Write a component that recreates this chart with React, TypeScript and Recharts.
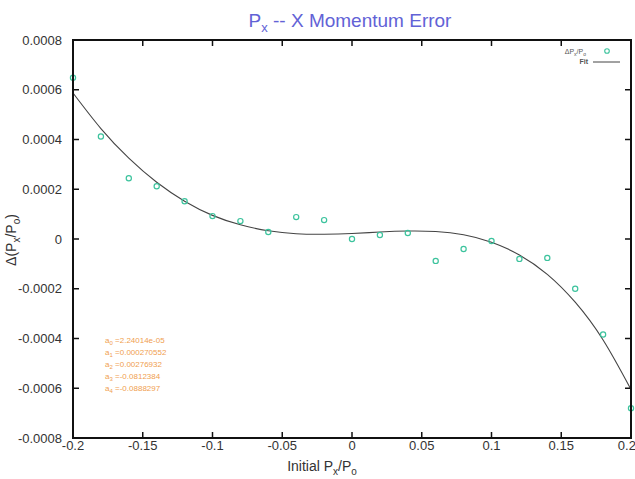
import { ComposedChart, Line, Scatter, XAxis, YAxis } from "recharts";

// initial Px/Po values of the scan
const xValues = [
  -0.2, -0.18, -0.16, -0.14, -0.12, -0.1, -0.08, -0.06, -0.04, -0.02, 0,
  0.02, 0.04, 0.06, 0.08, 0.1, 0.12, 0.14, 0.16, 0.18, 0.2,
];
// measured Δ(Px/Po)
const measured = [
  0.000648, 0.000412, 0.000244, 0.000212, 0.000152, 0.000092, 0.000072, 0.000028,
  0.000088, 0.000076, 0, 0.000016, 0.000024, -0.000088, -0.00004, -0.000008,
  -0.00008, -0.000076, -0.0002, -0.000384, -0.00068,
];
// polynomial fit curve, read at the same x values
const fitValues = [
  0.000587, 0.000444, 0.000325, 0.000228, 0.000152, 0.000095, 0.000057, 0.000033,
  0.000021, 0.000019, 0.000022, 0.000028, 0.000032, 0.00003, 0.000017, -0.000013,
  -0.000064, -0.000142, -0.000254, -0.000406, -0.000605,
];

const xTicks = [-0.2, -0.15, -0.1, -0.05, 0, 0.05, 0.1, 0.15, 0.2];
const yTicks = [-0.0008, -0.0006, -0.0004, -0.0002, 0, 0.0002, 0.0004, 0.0006, 0.0008];

const coefNames = ["0", "1", "2", "3", "4"];
const coefValues = ["2.24014e-05", "0.000270552", "0.00276932", "-0.0812384", "-0.0888297"];

const data = xValues.map((x, i) => ({ x, measured: measured[i], fit: fitValues[i] }));

// plot box (follows from the chart margins and axis sizes below)
const PLOT = { left: 73, right: 631, top: 40, bottom: 438 };
const X_MIN = -0.2;
const X_MAX = 0.2;
const Y_MIN = -0.0008;
const Y_MAX = 0.0008;
const frameX = (v: number) => PLOT.left + ((v - X_MIN) / (X_MAX - X_MIN)) * (PLOT.right - PLOT.left);
const frameY = (v: number) => PLOT.top + ((Y_MAX - v) / (Y_MAX - Y_MIN)) * (PLOT.bottom - PLOT.top);

const FONT = "'Liberation Sans', Arial, sans-serif";
const GREEN = "#3cc39d";
const FRAME = "#111";
const tickStyle = { fill: "#333", fontSize: 13, fontFamily: FONT };

const Ring = (props: any) => (
  <circle cx={props.cx} cy={props.cy} r={2.6} fill="none" stroke={GREEN} strokeWidth={1.2} />
);

export default function App() {
  return (
    <div style={{ position: "absolute", left: 0, top: 0, width: 635, height: 479, background: "#fff", overflow: "hidden" }}>
      <ComposedChart width={635} height={479} data={data} margin={{ top: 40, right: 4, bottom: 0, left: 0 }}>
        <XAxis
          dataKey="x"
          type="number"
          domain={[X_MIN, X_MAX]}
          ticks={xTicks}
          height={41}
          tickSize={-6}
          tickMargin={9}
          tick={tickStyle}
          stroke={FRAME}
          strokeWidth={1.5}
        />
        <YAxis
          type="number"
          domain={[Y_MIN, Y_MAX]}
          ticks={yTicks}
          width={73}
          tickSize={-6}
          tickMargin={17}
          tick={tickStyle}
          stroke={FRAME}
          strokeWidth={1.5}
        />
        <Line
          type="natural"
          dataKey="fit"
          stroke="#444"
          strokeWidth={1.1}
          dot={false}
          isAnimationActive={false}
        />
        <Scatter dataKey="measured" shape={Ring} isAnimationActive={false} />
      </ComposedChart>

      <svg
        width={635}
        height={479}
        style={{ position: "absolute", left: 0, top: 0, pointerEvents: "none" }}
      >
        {/* full frame box, with mirrored inward ticks on top and right */}
        <rect
          x={PLOT.left}
          y={PLOT.top}
          width={PLOT.right - PLOT.left}
          height={PLOT.bottom - PLOT.top}
          fill="none"
          stroke={FRAME}
          strokeWidth={2}
        />
        {xTicks.map((t) => (
          <line key={"tx" + t} x1={frameX(t)} x2={frameX(t)} y1={PLOT.top} y2={PLOT.top + 6} stroke={FRAME} strokeWidth={1.5} />
        ))}
        {yTicks.map((t) => (
          <line key={"ty" + t} x1={PLOT.right} x2={PLOT.right - 6} y1={frameY(t)} y2={frameY(t)} stroke={FRAME} strokeWidth={1.5} />
        ))}

        <text x={350} y={27} textAnchor="middle" fontSize={19} fill="#6262d6" fontFamily={FONT}>
          P<tspan fontSize={13} dy={5}>x</tspan>
          <tspan dy={-5}> -- X Momentum Error</tspan>
        </text>

        <text x={322} y={471} textAnchor="middle" fontSize={14} fill="#333" fontFamily={FONT}>
          Initial P<tspan fontSize={10} dy={4}>x</tspan>
          <tspan dy={-4}>/P</tspan>
          <tspan fontSize={10} dy={4}>o</tspan>
        </text>

        <text
          x={0}
          y={0}
          transform="translate(16,240) rotate(-90)"
          textAnchor="middle"
          fontSize={14}
          fill="#333"
          fontFamily={FONT}
        >
          Δ(P<tspan fontSize={10} dy={4}>x</tspan>
          <tspan dy={-4}>/P</tspan>
          <tspan fontSize={10} dy={4}>o</tspan>
          <tspan dy={-4}>)</tspan>
        </text>

        {coefNames.map((n, i) => (
          <text key={n} x={105} y={343 + i * 12} fontSize={8} fill="#f0a050" fontFamily={FONT}>
            a<tspan fontSize={6} dy={2}>{n}</tspan>
            <tspan dy={-2}> ={coefValues[i]}</tspan>
          </text>
        ))}

        <text x={586} y={54} textAnchor="end" fontSize={7} fill="#555" fontFamily={FONT}>
          ΔP<tspan fontSize={5} dy={2}>x</tspan>
          <tspan dy={-2}>/P</tspan>
          <tspan fontSize={5} dy={2}>o</tspan>
        </text>
        <circle cx={607} cy={51} r={2.3} fill="none" stroke={GREEN} strokeWidth={1.1} />
        <text x={588} y={64} textAnchor="end" fontSize={7} fontWeight="bold" fill="#555" fontFamily={FONT}>
          Fit
        </text>
        <line x1={593} x2={620} y1={62} y2={62} stroke="#444" strokeWidth={1} />
      </svg>
    </div>
  );
}
